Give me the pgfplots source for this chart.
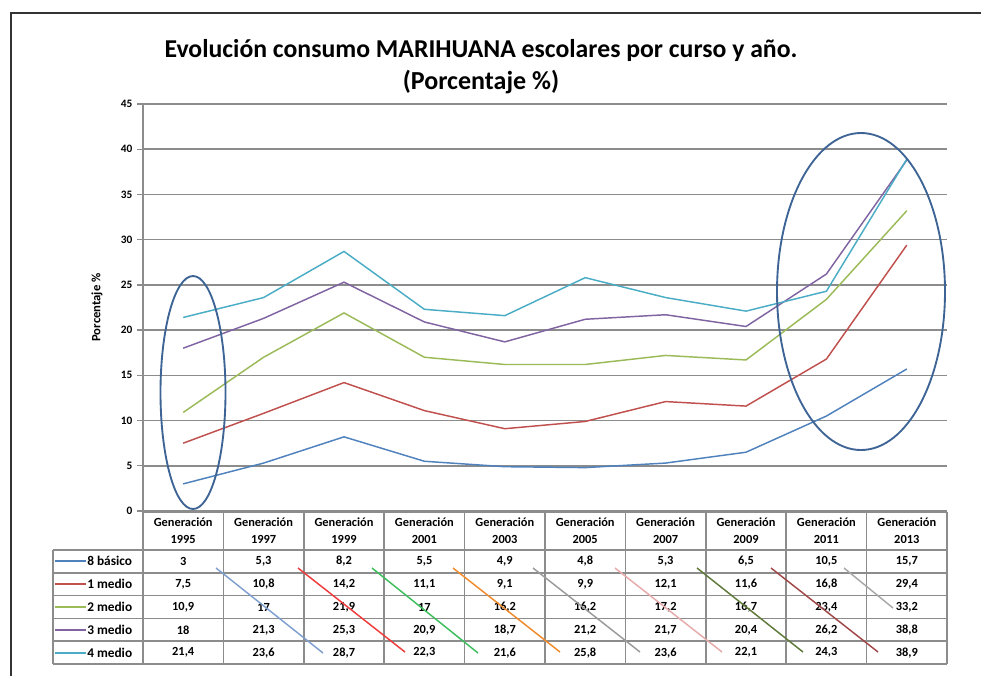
\documentclass[border=0pt]{standalone}
\usepackage{pgfplots}
\pgfplotsset{compat=1.18}
\usepackage{pgfplotstable}
\usepackage{fontspec}
\setmainfont{Carlito}
\definecolor{sA}{HTML}{4F81BD}
\definecolor{sB}{HTML}{C0504D}
\definecolor{sC}{HTML}{9BBB59}
\definecolor{sD}{HTML}{8064A2}
\definecolor{sE}{HTML}{4BACC6}
\definecolor{gridgray}{HTML}{8C8C8C}
\definecolor{ell}{HTML}{3D6495}
\definecolor{dA}{HTML}{7F9FCF}
\definecolor{dB}{HTML}{EE3B3B}
\definecolor{dC}{HTML}{3CBF5C}
\definecolor{dD}{HTML}{F08A2B}
\definecolor{dE}{HTML}{9A9A9A}
\definecolor{dF}{HTML}{E6AAAA}
\definecolor{dG}{HTML}{5F7A3A}
\definecolor{dH}{HTML}{A04848}
\definecolor{dI}{HTML}{A8A8A8}
\pgfplotstableread{
x  b8   m1   m2   m3   m4
0  3    7.5  10.9 18   21.4
1  5.3  10.8 17   21.3 23.6
2  8.2  14.2 21.9 25.3 28.7
3  5.5  11.1 17   20.9 22.3
4  4.9  9.1  16.2 18.7 21.6
5  4.8  9.9  16.2 21.2 25.8
6  5.3  12.1 17.2 21.7 23.6
7  6.5  11.6 16.7 20.4 22.1
8  10.5 16.8 23.4 26.2 24.3
9  15.7 29.4 33.2 38.8 38.9
}\datatab
\begin{document}
\begin{tikzpicture}
\begin{scope}[x=0.75pt,y=-0.75pt]
\useasboundingbox (0,0) rectangle (981,676);
\draw[line width=1.5pt, draw=black!80] (11,676) -- (11,13) -- (981,13);
\node[anchor=base, font=\fontsize{19.3}{21}\selectfont\bfseries] at (481,57) {Evolución consumo MARIHUANA escolares por curso y año.};
\node[anchor=base, font=\fontsize{19.5}{21}\selectfont\bfseries] at (481,89) {(Porcentaje \%)};
\end{scope}
\begin{axis}[
 at={(107.25pt,-383.25pt)}, anchor=south west,
 scale only axis, width=603pt, height=305.25pt,
 xmin=-0.5, xmax=9.5, ymin=0, ymax=45,
 xtick=\empty, ytick={0,5,...,45},
 axis lines=left, axis line style={-, draw=gridgray, line width=1.3pt},
 ymajorgrids, grid style={draw=gridgray, line width=1.2pt},
 tick style={draw=gridgray, line width=1pt}, tick align=outside, major tick length=4.5pt,
 yticklabel style={font=\fontsize{8.5}{9}\selectfont\bfseries},
 /pgf/number format/assume math mode=true,
 ylabel={Porcentaje \%},
 ylabel style={font=\fontsize{9.5}{10}\selectfont\bfseries, at={(axis description cs:-0.0572,0.5)}, anchor=center},
 clip=false,
]
\addplot[sA, line width=1.1pt] table[x=x,y=b8] {\datatab};
\addplot[sB, line width=1.1pt] table[x=x,y=m1] {\datatab};
\addplot[sC, line width=1.1pt] table[x=x,y=m2] {\datatab};
\addplot[sD, line width=1.1pt] table[x=x,y=m3] {\datatab};
\addplot[sE, line width=1.1pt] table[x=x,y=m4] {\datatab};
\end{axis}
\begin{scope}[x=0.75pt,y=-0.75pt]
% ellipses
\draw[ell, line width=1.4pt] (193,392.5) ellipse [x radius=32.5, y radius=116.5];
\draw[ell, line width=1.4pt] (861,291.5) ellipse [x radius=84, y radius=158.5];
% table grid
\begin{scope}[draw=gridgray, line width=1.3pt]
\draw (143,512) -- (947,512);
\foreach \yy in {550,572.8,595.6,618.4,641.2,664} \draw (53,\yy) -- (947,\yy);
\foreach \k in {0,...,10} \draw ({143+80.4*\k},512) -- ({143+80.4*\k},664);
\draw (53,550) -- (53,664);
\end{scope}
% header and values
\begin{scope}[font=\fontsize{9.3}{10}\selectfont\bfseries]
\foreach \yr [count=\i from 0] in {1995,1997,1999,2001,2003,2005,2007,2009,2011,2013}{
  \node at ({183.2+80.4*\i},522) {Generación};
  \node at ({183.2+80.4*\i},539) {\yr};
}
\foreach \v [count=\i from 0] in {3, 5{,}3, 8{,}2, 5{,}5, 4{,}9, 4{,}8, 5{,}3, 6{,}5, 10{,}5, 15{,}7}
  \node at ({183.2+80.4*\i},561.4) {\v};
\foreach \v [count=\i from 0] in {7{,}5, 10{,}8, 14{,}2, 11{,}1, 9{,}1, 9{,}9, 12{,}1, 11{,}6, 16{,}8, 29{,}4}
  \node at ({183.2+80.4*\i},584.2) {\v};
\foreach \v [count=\i from 0] in {10{,}9, 17, 21{,}9, 17, 16{,}2, 16{,}2, 17{,}2, 16{,}7, 23{,}4, 33{,}2}
  \node at ({183.2+80.4*\i},607) {\v};
\foreach \v [count=\i from 0] in {18, 21{,}3, 25{,}3, 20{,}9, 18{,}7, 21{,}2, 21{,}7, 20{,}4, 26{,}2, 38{,}8}
  \node at ({183.2+80.4*\i},629.8) {\v};
\foreach \v [count=\i from 0] in {21{,}4, 23{,}6, 28{,}7, 22{,}3, 21{,}6, 25{,}8, 23{,}6, 22{,}1, 24{,}3, 38{,}9}
  \node at ({183.2+80.4*\i},652.6) {\v};
\end{scope}
% legend column
\begin{scope}[font=\fontsize{10}{11}\selectfont\bfseries]
\foreach \c/\t/\yy in {sA/8 básico/561, sB/1 medio/584, sC/2 medio/607, sD/3 medio/630, sE/4 medio/653}{
  \draw[\c, line width=1.3pt] (55,\yy) -- (86,\yy);
  \node[anchor=west, inner sep=0pt] at (87,\yy) {\t};
}
\end{scope}
% diagonal strokes across the table
\begin{scope}[line width=1.1pt]
\draw[dA] (216,568) -- (323,653);
\draw[dB] (298,568) -- (405,652);
\draw[dC] (372,568) -- (478,653);
\draw[dD] (453,568) -- (560,652);
\draw[dE] (533,568) -- (640,652);
\draw[dF] (615,568) -- (722,652);
\draw[dG] (697,568) -- (803,652);
\draw[dH] (771,568) -- (878,652);
\draw[dI] (844,568) -- (893,608);
\end{scope}
\end{scope}
\end{tikzpicture}
\end{document}
